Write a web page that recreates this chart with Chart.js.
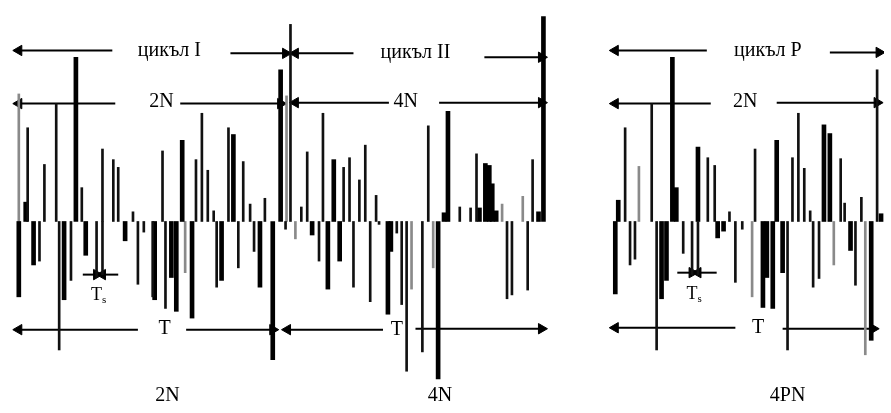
<!DOCTYPE html>
<html>
<head>
<meta charset="utf-8">
<script src="https://cdn.jsdelivr.net/npm/chart.js@4"></script>
<style>
  body { margin: 0; background: #fff; }
  #wrap { width: 891px; height: 413px; position: relative; }
</style>
</head>
<body>
<div id="wrap"><canvas id="pulseChart"></canvas></div>
<script>
// sample positions (time axis) and amplitudes
const thinUpX = [21, 38, 50, 76, 97, 108, 113, 128, 158, 192, 198, 204, 210, 225, 240, 247, 262, 288, 299, 305, 321, 342, 348, 358, 364, 375, 428, 460, 471, 477, 534, 628, 655, 712, 719, 734, 760, 798, 804, 810, 816, 847, 851, 868, 884];
const thinUpV = [97, 59, 122, 35, 75, 64, 56, 10, 73, 64, 112, 53, 11, 97, 62, 18, 24, 204, 15, 72, 112, 56, 66, 43, 79, 27, 99, 15, 14, 70, 64, 97, 122, 66, 58, 10, 75, 66, 112, 55, 11, 65, 19, 25, 157];
const thinDownX = [33, 53, 65, 91, 97, 133, 139, 148, 161, 213, 235, 251, 283, 317, 352, 369, 378, 396, 401, 406, 422, 508, 513, 529, 633, 638, 660, 687, 696, 702, 740, 747, 793, 819, 825, 862];
const thinDownV = [-41, -133, -61, -58, -55, -65, -11, -78, -90, -68, -48, -31, -8, -41, -68, -83, -3, -12, -86, -155, -135, -80, -76, -71, -45, -39, -133, -33, -55, -55, -63, -8, -133, -68, -59, -66];

const thickUpX = [19, 70, 178, 230, 278, 332, 444, 448, 480, 486, 490, 493, 497, 540, 545, 621, 676, 680, 702, 782, 830, 836, 888];
const thickUpV = [20, 170, 84, 90, 157, 64, 9, 114, 14, 60, 58, 39, 11, 10, 212, 22, 170, 35, 77, 84, 100, 91, 8];
const thickDownX = [12, 27, 58, 80, 120, 150, 167, 172, 188, 218, 257, 270, 310, 326, 338, 387, 390, 438, 618, 665, 670, 722, 728, 768, 772, 778, 788, 857, 878];
const thickDownV = [-78, -45, -81, -35, -20, -81, -58, -93, -100, -61, -68, -143, -14, -70, -41, -96, -31, -163, -75, -80, -61, -17, -10, -89, -58, -90, -53, -30, -123];

const greyX = [12, 284, 503, 524, 642, 181, 293, 411, 433, 757, 840, 872];
const greyV = [132, 130, 18, 26, 57, -53, -18, -70, -48, -78, -45, -138];

// dimension arrows: [tail x, head x, level]
const arrows = [
  [107, 12, 177], [227, 283, 174], [352, 293, 174], [485, 543, 170], [711, 618, 177], [836, 886, 175],
  [110, 12, 122], [176, 278, 122], [388, 293, 123], [439, 543, 123], [715, 618, 122], [782, 884, 123],
  [133, 12, -112], [182, 270, -112], [382, 285, -112], [415, 543, -111], [740, 618, -110], [788, 880, -111],
  [77, 91, -55], [113, 97, -55], [681, 696, -53], [721, 702, -53]
];

// text labels: [text, x, level, size, subscript]
const labels = [
  ['цикъл I', 165, 177, 20], ['цикъл II', 415, 175, 20], ['цикъл P', 773, 177, 20],
  ['2N', 157, 124, 20], ['4N', 405, 124, 20], ['2N', 750, 124, 20],
  ['T', 160, -111, 20], ['T', 396, -112, 20], ['T', 763, -110, 20],
  ['T', 93, -76, 18, 's'], ['T', 698, -75, 18, 's'],
  ['2N', 163, -180, 20], ['4N', 440, -180, 20], ['4PN', 793, -180, 20]
];

function pts(xs, vs) {
  return xs.map((x, i) => ({ x: x, y: vs[i] }));
}

function barSet(data, thick, colour) {
  return {
    type: 'bar',
    data: data,
    backgroundColor: colour,
    borderWidth: 0,
    barThickness: thick,
    grouped: false
  };
}

const datasets = [
  barSet(pts(thinUpX, thinUpV), 2, '#111'),
  barSet(pts(thinDownX, thinDownV), 2, '#111'),
  barSet(pts(thickUpX, thickUpV), 4, '#000'),
  barSet(pts(thickDownX, thickDownV), 4, '#000'),
  barSet(pts(greyX, greyV), 2, '#8a8a8a')
];

arrows.forEach(a => {
  datasets.push({
    type: 'line',
    data: [{ x: a[0], y: a[2] }, { x: a[1], y: a[2] }],
    borderColor: '#000',
    backgroundColor: '#000',
    borderWidth: 2,
    pointStyle: 'triangle',
    pointRadius: [0, 6],
    pointRotation: [0, a[1] > a[0] ? 90 : -90],
    pointBorderWidth: 1
  });
});

const labelPlugin = {
  id: 'labels',
  afterDatasetsDraw(chart) {
    const ctx = chart.ctx;
    const xs = chart.scales.x, ys = chart.scales.y;
    ctx.save();
    ctx.fillStyle = '#000';
    ctx.textBaseline = 'middle';
    labels.forEach(l => {
      const px = xs.getPixelForValue(l[1]);
      const py = ys.getPixelForValue(l[2]);
      ctx.font = l[3] + 'px "Liberation Serif"';
      if (l[4]) {
        const w = ctx.measureText(l[0]).width;
        ctx.textAlign = 'left';
        ctx.fillText(l[0], px - w / 2 - 2, py);
        ctx.font = '11px "Liberation Serif"';
        ctx.fillText(l[4], px + w / 2 - 2, py + 5);
      } else {
        ctx.textAlign = 'center';
        ctx.fillText(l[0], px, py);
      }
    });
    ctx.restore();
  }
};

let pulseCtx = document.getElementById('pulseChart').getContext('2d');
let pulseChart = new Chart(pulseCtx, {
  type: 'bar',
  data: { datasets: datasets },
  options: {
    responsive: true,
    maintainAspectRatio: false,
    animation: false,
    layout: { padding: 0 },
    plugins: {
      legend: { display: false },
      tooltip: { enabled: false }
    },
    scales: {
      x: { type: 'linear', min: 0, max: 891, offset: false, display: false },
      y: { min: -191, max: 222, display: false }
    }
  },
  plugins: [labelPlugin]
});
</script>
</body>
</html>
